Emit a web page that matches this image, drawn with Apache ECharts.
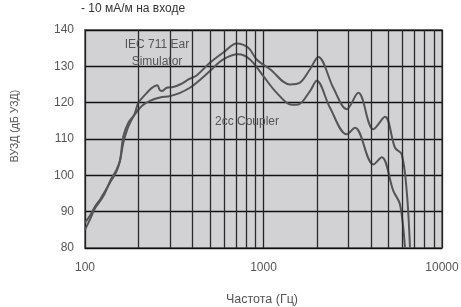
<!DOCTYPE html>
<html><head><meta charset="utf-8">
<script src="https://cdn.jsdelivr.net/npm/echarts@6/dist/echarts.min.js"></script>
<style>html,body{margin:0;padding:0;background:#fff}#c{width:461px;height:307px}</style>
</head><body><div id="c"></div>
<script>
const earSimulator = [[100,87],[107,89],[114,91.5],[122,93.5],[129,95.5],[140,98.5],[150,101],[157,104],[164,109],[172,112.5],[179,114.5],[190,117],[199,120],[211,121.5],[222,122.7],[236,124],[254,124.8],[262,123.5],[269,123.2],[287,124.1],[312,124.3],[340,125],[387,126.6],[422,127.5],[501,131],[595,133.8],[708,136.3],[822,135.1],[916,131.9],[1088,129.2],[1408,125],[1601,125.5],[1822,129.2],[2028,132.6],[2460,124.1],[2924,118.2],[3397,122.7],[4122,112.7],[4794,116.1],[5455,107.6],[5945,105.8],[6342,95.7],[6618,80]];
const coupler2cc = [[100,85],[107,88],[114,91],[122,93],[129,95],[140,99],[150,101.5],[157,104],[164,110.8],[175,114.5],[187,116.3],[208,119.1],[231,120.5],[263,121.4],[299,121.8],[341,122.7],[387,124.1],[422,125.5],[501,128.7],[595,131.9],[722,133.3],[840,131.9],[998,127.3],[1186,122.7],[1439,119.4],[1567,119.5],[1822,123.2],[1986,126],[2358,118.6],[2924,111.3],[3255,113.1],[4122,103],[4595,105],[5338,95.7],[5816,92],[6204,80]];
const minorFreqs = [200,300,400,500,600,700,800,900,2000,3000,4000,5000,6000,7000,8000,9000];
const yTicks = [80,90,100,110,120,130,140];
const xLabels = [100,1000,10000];
const titleText = '- 10 мА/м на входе';
const xName = 'Частота (Гц)';
const yName = 'ВУЗД (дБ УЗД)';
const earLabel = 'IEC 711 Ear\nSimulator';
const couplerLabel = '2cc Coupler';

const chart = echarts.init(document.getElementById('c'), null, {renderer:'canvas'});
const font = 'Liberation Sans, Arial, sans-serif';
chart.setOption({
  animation:false,
  grid:{left:85,right:19,top:30,bottom:59,containLabel:false,outerBoundsMode:'none',show:true,backgroundColor:'#d2d2d4',borderColor:'#7a7a7a',borderWidth:2},
  xAxis:{type:'log',logBase:10,min:100,max:10000,
    axisLine:{show:false},axisTick:{show:false},
    axisLabel:{color:'#555',fontSize:12,fontFamily:font,margin:14,
      formatter:v=>xLabels.includes(Math.round(v))?String(Math.round(v)):''},
    splitLine:{show:true,lineStyle:{color:'#222',width:1.3}}},
  yAxis:{type:'value',min:yTicks[0],max:yTicks[yTicks.length-1],interval:10,
    axisLine:{show:false},axisTick:{show:false},
    axisLabel:{color:'#555',fontSize:12,fontFamily:font,margin:11},
    splitLine:{show:true,lineStyle:{color:'#111',width:1.3}}},
  graphic:[
    {type:'text',left:81,top:3,style:{text:titleText,fill:'#333',font:'12px '+font}},
    {type:'text',x:15,y:126,rotation:Math.PI/2,style:{text:yName,fill:'#555',font:'10.5px '+font,textAlign:'center',textVerticalAlign:'middle'}},
    {type:'text',x:262,y:300,style:{text:xName,fill:'#555',font:'12.5px '+font,textAlign:'center',textVerticalAlign:'middle'}},
    {type:'text',x:157,y:36,z:10,style:{text:earLabel,fill:'#555',font:'12px '+font,textAlign:'center',lineHeight:17}},
    {type:'text',x:215,y:116,z:10,style:{text:couplerLabel,fill:'#555',font:'12px '+font}}
  ],
  series:[
    {type:'line',data:[],z:1,
     markLine:{silent:true,symbol:'none',label:{show:false},lineStyle:{color:'#2a2a2a',width:1.3,type:'solid'},
       data:minorFreqs.map(f=>({xAxis:f}))}},
    {type:'line',data:earSimulator,smooth:0.35,symbol:'none',clip:true,
     lineStyle:{color:'#555',width:2},z:3},
    {type:'line',data:coupler2cc,smooth:0.35,symbol:'none',clip:true,
     lineStyle:{color:'#555',width:2},z:3}
  ]
});
</script></body></html>
